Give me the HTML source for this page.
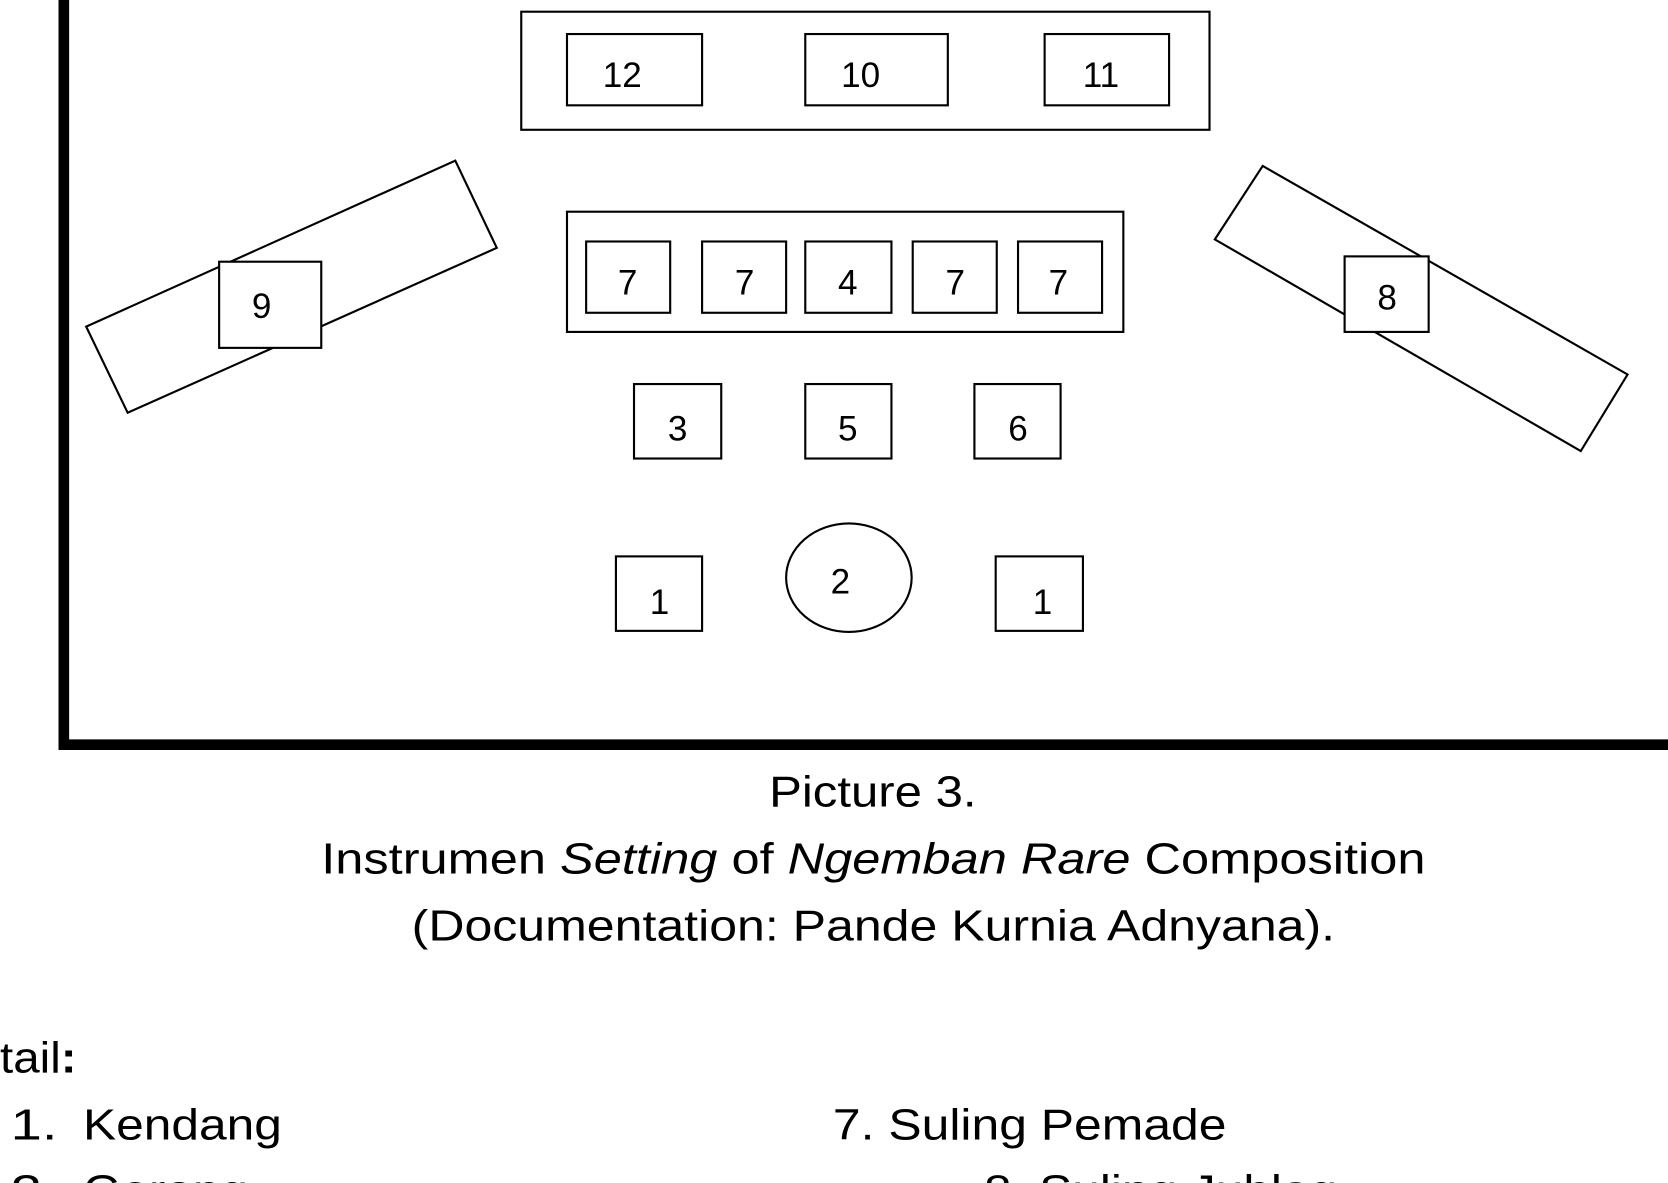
<!DOCTYPE html>
<html><head><meta charset="utf-8"><style>
html,body{margin:0;padding:0;background:#fff;overflow:hidden}
svg{display:block}
text{font-family:"Liberation Sans",sans-serif;fill:#000}
.n{font-size:33px;text-anchor:middle}
</style></head><body>
<svg width="1668" height="1183" viewBox="0 0 1568 1112" preserveAspectRatio="none">
<g fill="none" stroke="#000">
<path d="M60 0 V700 H1568" stroke-width="10"/>
<g stroke-width="2">
<rect x="490" y="11" width="647" height="111"/>
<rect x="533" y="32" width="127" height="67"/>
<rect x="757" y="32" width="134" height="67"/>
<rect x="982" y="32" width="117" height="67"/>
<rect x="533" y="199" width="523" height="113"/>
<rect x="551" y="227" width="79" height="67"/>
<rect x="660" y="227" width="79" height="67"/>
<rect x="757" y="227" width="81" height="67"/>
<rect x="858" y="227" width="79" height="67"/>
<rect x="957" y="227" width="79" height="67"/>
<rect x="596" y="361" width="82" height="70"/>
<rect x="757" y="361" width="81" height="70"/>
<rect x="916" y="361" width="81" height="70"/>
<rect x="579" y="523" width="81" height="70"/>
<rect x="936" y="523" width="82" height="70"/>
<ellipse cx="798" cy="543" rx="59" ry="51"/>
<polygon points="81,307 428,151 467,233 120,388"/>
<polygon points="1142,225 1187,156 1530,352 1486,424"/>
</g></g>
<rect x="206" y="246" width="96" height="81" fill="#fff" stroke="#000" stroke-width="2"/>
<rect x="1264" y="241" width="79" height="71" fill="#fff" stroke="#000" stroke-width="2"/>
<text class="n" x="585" y="82">12</text><text class="n" x="809" y="82">10</text><text class="n" x="1035" y="82">11</text>
<text class="n" x="590" y="277">7</text><text class="n" x="700" y="277">7</text><text class="n" x="797" y="277">4</text><text class="n" x="898" y="277">7</text><text class="n" x="995" y="277">7</text>
<text class="n" x="637" y="414">3</text><text class="n" x="797" y="414">5</text><text class="n" x="957" y="414">6</text>
<text class="n" x="620" y="577">1</text><text class="n" x="980" y="577">1</text><text class="n" x="790" y="558">2</text>
<text class="n" x="246" y="299">9</text><text class="n" x="1304" y="291">8</text>
<g font-size="41" lengthAdjust="spacingAndGlyphs">
<text x="723" y="758" textLength="195" lengthAdjust="spacingAndGlyphs">Picture 3.</text>
<text x="302" y="821" textLength="1038" lengthAdjust="spacingAndGlyphs">Instrumen <tspan font-style="italic">Setting</tspan>  of <tspan font-style="italic">Ngemban Rare</tspan> Composition</text>
<text x="387" y="884" textLength="868" lengthAdjust="spacingAndGlyphs">(Documentation: Pande Kurnia Adnyana).</text>
<text x="0" y="1008" textLength="72" lengthAdjust="spacingAndGlyphs">tail<tspan font-weight="bold">:</tspan></text>
<text x="10" y="1071" textLength="44" lengthAdjust="spacingAndGlyphs">1.</text>
<text x="78" y="1071" textLength="187" lengthAdjust="spacingAndGlyphs">Kendang</text>
<text x="783" y="1071" textLength="370" lengthAdjust="spacingAndGlyphs">7. Suling Pemade</text>
<text x="10" y="1133" textLength="44" lengthAdjust="spacingAndGlyphs">2.</text>
<text x="78" y="1133" textLength="155" lengthAdjust="spacingAndGlyphs">Gerong</text>
<text x="925" y="1133" textLength="332" lengthAdjust="spacingAndGlyphs">8. Suling Jublag</text>
</g>
</svg>
</body></html>
